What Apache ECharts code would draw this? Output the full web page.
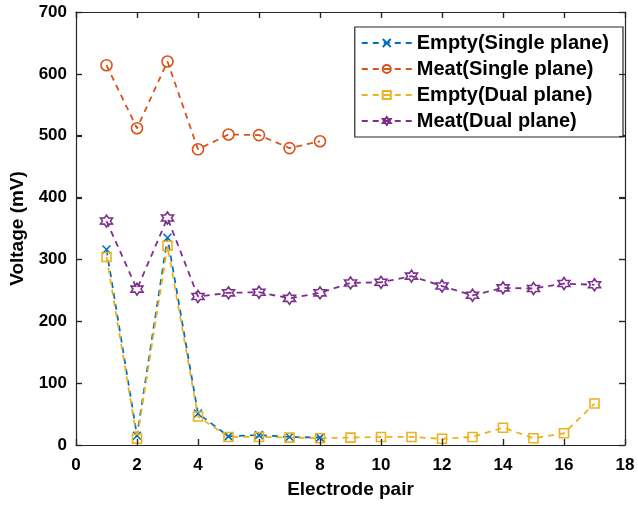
<!DOCTYPE html>
<html>
<head>
<meta charset="utf-8">
<script src="https://cdn.jsdelivr.net/npm/echarts@6/dist/echarts.min.js"></script>
<style>
  html, body { margin: 0; padding: 0; background: #fff; }
  #chart { width: 638px; height: 505px; }
</style>
</head>
<body>
<div id="chart"></div>
<script>
// electrode pair index
const pairs = [1, 2, 3, 4, 5, 6, 7, 8, 9, 10, 11, 12, 13, 14, 15, 16, 17]

// voltages in mV
const emptySingle = [316, 15, 335, 51, 14, 16, 13, 12]
const meatSingle = [614, 512, 620, 478, 502, 501, 480, 491]
const emptyDual = [304, 10, 322, 46, 13, 13, 12, 11, 12, 13, 13, 10, 13, 28, 11, 19, 67]
const meatDual = [362, 252, 367, 240, 246, 247, 237, 246, 262, 263, 273, 257, 242, 254, 253, 261, 259]

// tick values
const xTicks = [0, 2, 4, 6, 8, 10, 12, 14, 16, 18]
const yTicks = [0, 100, 200, 300, 400, 500, 600, 700]

const seriesNames = ['Empty(Single plane)', 'Meat(Single plane)', 'Empty(Dual plane)', 'Meat(Dual plane)']
const colors = ['#0072BD', '#D95319', '#EDB120', '#7E2F8E']

const FONT = 'Arial, "Liberation Sans", Helvetica, sans-serif'
const AXIS_COLOR = '#262626'

// six pointed star for the hexagram marker
const hexagram = (() => {
  const pts = []
  for (let i = 0; i < 12; i++) {
    const r = i % 2 === 0 ? 10 : 5.8
    const a = Math.PI / 2 + i * Math.PI / 6
    pts.push((10 + r * Math.cos(a)).toFixed(2) + ',' + (10 - r * Math.sin(a)).toFixed(2))
  }
  return 'path://M' + pts.join('L') + 'Z'
})()
const cross = 'path://M0,0L10,10M10,0L0,10'

const symbols = [cross, 'circle', 'rect', hexagram]
const symbolSizes = [8, 11, 9, 12]
const values = [emptySingle, meatSingle, emptyDual, meatDual]

const chart = echarts.init(document.getElementById('chart'))

const line = () => ({ show: true, onZero: false, lineStyle: { color: AXIS_COLOR, width: 1.2 } })
const tick = () => ({ show: true, inside: true, length: 6, lineStyle: { color: AXIS_COLOR, width: 1.2 } })

chart.setOption({
  animation: false,
  grid: { left: 76, right: 13, top: 12, bottom: 60 },
  legend: {
    orient: 'vertical',
    right: 15,
    top: 27,
    data: seriesNames,
    itemWidth: 50,
    itemHeight: 10,
    itemGap: 6,
    padding: [6, 14, 6, 6],
    borderColor: AXIS_COLOR,
    borderWidth: 1.2,
    backgroundColor: '#fff',
    textStyle: { fontFamily: FONT, fontWeight: 'bold', fontSize: 20, lineHeight: 20, color: '#000' }
  },
  xAxis: [
    {
      type: 'value', min: 0, max: 18, interval: 2, position: 'bottom',
      name: 'Electrode pair', nameLocation: 'middle', nameGap: 35,
      nameTextStyle: { fontFamily: FONT, fontWeight: 'bold', fontSize: 19, color: '#000' },
      axisLabel: { fontFamily: FONT, fontWeight: 'bold', fontSize: 17, color: '#000', margin: 12 },
      axisLine: line(), axisTick: tick(), splitLine: { show: false }
    },
    {
      type: 'value', min: 0, max: 18, interval: 2, position: 'top',
      axisLabel: { show: false },
      axisLine: line(), axisTick: tick(), splitLine: { show: false }
    }
  ],
  yAxis: [
    {
      type: 'value', min: 0, max: 700, interval: 100, position: 'left',
      name: 'Voltage (mV)', nameLocation: 'middle', nameGap: 44,
      nameTextStyle: { fontFamily: FONT, fontWeight: 'bold', fontSize: 19, color: '#000' },
      axisLabel: { fontFamily: FONT, fontWeight: 'bold', fontSize: 17, color: '#000', margin: 9 },
      axisLine: line(), axisTick: tick(), splitLine: { show: false }
    },
    {
      type: 'value', min: 0, max: 700, interval: 100, position: 'right',
      axisLabel: { show: false },
      axisLine: line(), axisTick: tick(), splitLine: { show: false }
    }
  ],
  series: values.map((vals, i) => ({
    name: seriesNames[i],
    type: 'line',
    data: vals.map((v, j) => [pairs[j], v]),
    symbol: symbols[i],
    symbolSize: symbolSizes[i],
    showAllSymbol: true,
    lineStyle: { color: colors[i], width: 1.8, type: [6, 5] },
    itemStyle: { color: 'rgba(255,255,255,0)', borderColor: colors[i], borderWidth: 1.6 },
    z: i === 3 ? 3 : 2
  }))
})

// inward ticks on all four sides, placed through the axes' own scales
const drawTicks = () => {
  const top = chart.convertToPixel({ yAxisIndex: 0 }, 700)
  const bottom = chart.convertToPixel({ yAxisIndex: 0 }, 0)
  const left = chart.convertToPixel({ xAxisIndex: 0 }, 0)
  const right = chart.convertToPixel({ xAxisIndex: 0 }, 18)
  const len = 6
  const els = []
  const seg = (x1, y1, x2, y2) => els.push({
    type: 'line', z: 100, silent: true,
    shape: { x1, y1, x2, y2 },
    style: { stroke: AXIS_COLOR, lineWidth: 1.2 }
  })
  xTicks.forEach(v => {
    const x = Math.round(chart.convertToPixel({ xAxisIndex: 0 }, v)) + 0.5
    seg(x, bottom, x, bottom - len)
    seg(x, top, x, top + len)
  })
  yTicks.forEach(v => {
    const y = Math.round(chart.convertToPixel({ yAxisIndex: 0 }, v)) + 0.5
    seg(left, y, left + len, y)
    seg(right, y, right - len, y)
  })
  chart.setOption({ graphic: { elements: els } }, { replaceMerge: ['graphic'] })
}
drawTicks()

window.addEventListener('resize', () => { chart.resize(); drawTicks() })
</script>
</body>
</html>
